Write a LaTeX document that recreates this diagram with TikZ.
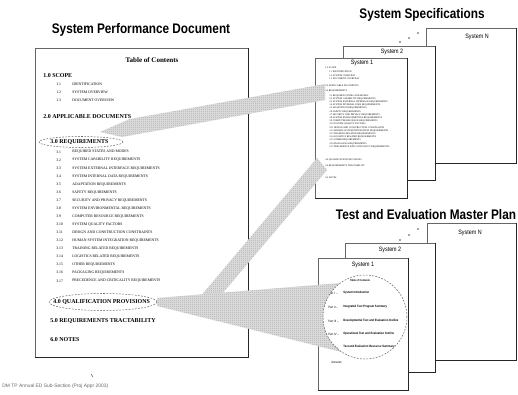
\documentclass[tikz,border=0pt]{standalone}
\usepackage{fontspec}
\setmainfont{Liberation Serif}
\newfontfamily\nsans{Liberation Sans}[FakeStretch=0.85]
\newfontfamily\psans{Liberation Sans}
\usetikzlibrary{patterns}

% fine checkerboard used for the mapping beams
\pgfdeclarepatternformonly{finecheck}{\pgfpointorigin}{\pgfpoint{0.9pt}{0.9pt}}{\pgfpoint{0.9pt}{0.9pt}}{%
  \pgfpathrectangle{\pgfpointorigin}{\pgfpoint{0.45pt}{0.45pt}}%
  \pgfpathrectangle{\pgfpoint{0.45pt}{0.45pt}}{\pgfpoint{0.45pt}{0.45pt}}%
  \pgfusepath{fill}}

\def\reqlist{REQUIRED STATES AND MODES, SYSTEM CAPABILITY REQUIREMENTS,
  SYSTEM EXTERNAL INTERFACE REQUIREMENTS, SYSTEM INTERNAL DATA REQUIREMENTS,
  ADAPTATION REQUIREMENTS, SAFETY REQUIREMENTS, SECURITY AND PRIVACY REQUIREMENTS,
  SYSTEM ENVIRONMENTAL REQUIREMENTS, COMPUTER RESOURCE REQUIREMENTS,
  SYSTEM QUALITY FACTORS, DESIGN AND CONSTRUCTION CONSTRAINTS,
  HUMAN SYSTEM INTEGRATION REQUIREMENTS, TRAINING RELATED REQUIREMENTS,
  LOGISTICS RELATED REQUIREMENTS, OTHER REQUIREMENTS, PACKAGING REQUIREMENTS,
  PRECEDENCE AND CRITICALITY REQUIREMENTS}

\begin{document}
\begin{tikzpicture}[x=0.02cm,y=-0.02cm,
  title/.style={font=\nsans\bfseries\fontsize{7.9}{9}\selectfont, inner sep=0pt},
  pagebox/.style={draw=black!60, line width=0.3pt, fill=white, inner sep=0pt},
  heavyedge/.style={draw=black!85, line width=0.7pt},
  toc/.style={font=\bfseries\fontsize{4}{5}\selectfont, inner sep=0pt},
  head/.style={anchor=west, inner sep=0pt, font=\bfseries\fontsize{3.4}{4}\selectfont},
  item/.style={anchor=west, inner sep=0pt, font=\fontsize{2.15}{2.5}\selectfont},
  mini/.style={anchor=west, inner sep=0pt, font=\fontsize{1.35}{1.6}\selectfont, text=black},
  syslabel/.style={font=\nsans\fontsize{3.6}{4}\selectfont, inner sep=0pt},
  partlab/.style={anchor=west, inner sep=0pt, font=\nsans\fontsize{1.8}{2}\selectfont},
  parttxt/.style={anchor=west, inner sep=0pt, font=\nsans\bfseries\fontsize{1.8}{2}\selectfont},
  ring/.style={draw=black!60, line width=0.3pt, dash pattern=on 1pt off 0.8pt},
  beam/.style={preaction={fill=black!12}, pattern=finecheck, pattern color=black!32},
  dot/.style={fill=black!70}]

\useasboundingbox (0,0) rectangle (518,395);

% ---------------- System Performance Document ----------------
\node[title] (spdtitle) at (141,30) {System Performance Document};
\node[pagebox, minimum width=4.26cm, minimum height=6.18cm] (spd) at (141.5,202.5) {};
\draw[heavyedge] (spd.north east) -- (spd.south east) -- (spd.south west);

\node[toc] (toct) at (152,60) {Table of Contents};
\node[head] (h1) at (43,76) {1.0 SCOPE};
\node[item] (n11) at (56,84.5) {1.1}; \node[item] (t11) at (72,84.5) {IDENTIFICATION};
\node[item] (n12) at (56,92.5) {1.2}; \node[item] (t12) at (72,92.5) {SYSTEM OVERVIEW};
\node[item] (n13) at (56,100.5) {1.3}; \node[item] (t13) at (72,100.5) {DOCUMENT OVERVIEW};
\node[head] (h2) at (43,117) {2.0 APPLICABLE DOCUMENTS};
\node[head] (h3) at (50,142) {3.0 REQUIREMENTS};
\foreach \t [count=\i] in \reqlist {
  \node[item] (rn\i) at (56,{152+8.05*(\i-1)}) {3.\i};
  \node[item] (rt\i) at (72,{152+8.05*(\i-1)}) {\t};
}
\node[head] (h4) at (53,302) {4.0 QUALIFICATION PROVISIONS};
\node[head] (h5) at (50,321) {5.0 REQUIREMENTS TRACTABILITY};
\node[head] (h6) at (50,340) {6.0 NOTES};

\draw[black!70, line width=0.3pt] (91,374) -- (93,377);
\node[anchor=west, inner sep=0pt, font=\psans\fontsize{2.8}{3}\selectfont, text=black!60] (foot) at (2,386)
  {DM TP Annual ED Sub-Section (Proj Appr 2003)};

% ---------------- System Specifications ----------------
\node[title] (sstitle) at (422,15) {System Specifications};
\node[pagebox, minimum width=1.8cm, minimum height=2.7cm] (ssN) at (471,95.5) {};
\draw[heavyedge] (ssN.north east) -- (ssN.south east) -- (ssN.south west);
\node[syslabel] (ssNl) at (477,37) {System N};
\node[pagebox, minimum width=1.84cm, minimum height=2.68cm] (ss2) at (389,113) {};
\draw[heavyedge] (ss2.north east) -- (ss2.south east) -- (ss2.south west);
\node[syslabel] (ss2l) at (392,52) {System 2};
\node[pagebox, minimum width=1.84cm, minimum height=2.8cm] (ss1) at (361,128) {};
\draw[heavyedge] (ss1.north east) -- (ss1.south east) -- (ss1.south west);
\node[syslabel] (ss1l) at (362,63) {System 1};
\fill[dot] (400,42) circle[radius=0.5pt] (409,38) circle[radius=0.5pt] (418,33) circle[radius=0.5pt];

% miniature contents of the System 1 specification
\node[mini] (m1) at (325,68) {1.0 SCOPE};
\node[mini] (m11) at (329,72) {1.1 IDENTIFICATION};
\node[mini] (m12) at (329,75.5) {1.2 SYSTEM OVERVIEW};
\node[mini] (m13) at (329,79) {1.3 DOCUMENT OVERVIEW};
\node[mini] (m2) at (325,86) {2.0 APPLICABLE DOCUMENTS};
\node[mini] (m3) at (325,91) {3.0 REQUIREMENTS};
\foreach \t [count=\i] in \reqlist {
  \node[mini] (mr\i) at (329,{95.5+3.2*(\i-1)}) {3.\i\ \t};
}
\node[mini] (m4) at (325,160) {4.0 QUALIFICATION PROVISIONS};
\node[mini] (m5) at (325,166) {5.0 REQUIREMENTS TRACTABILITY};
\node[mini] (m6) at (325,178) {6.0 NOTES};

% ---------------- Test and Evaluation Master Plan ----------------
\node[title] (temptitle) at (426,215) {Test and Evaluation Master Plan};
\node[pagebox, minimum width=1.78cm, minimum height=2.74cm] (tN) at (471.5,291.5) {};
\draw[heavyedge] (tN.north east) -- (tN.south east) -- (tN.south west);
\node[syslabel] (tNl) at (470,233) {System N};
\node[pagebox, minimum width=1.8cm, minimum height=2.58cm] (t2) at (390,307.5) {};
\draw[heavyedge] (t2.north east) -- (t2.south east) -- (t2.south west);
\node[syslabel] (t2l) at (390,250) {System 2};
\node[pagebox, minimum width=1.8cm, minimum height=2.64cm] (t1) at (363,324) {};
\draw[heavyedge] (t1.north east) -- (t1.south east) -- (t1.south west);
\node[syslabel] (t1l) at (363,265) {System 1};
\fill[dot] (400,240) circle[radius=0.5pt] (409,235) circle[radius=0.5pt] (418,229) circle[radius=0.5pt];

\coordinate (tc) at (365,317);
\node[inner sep=0pt, font=\nsans\bfseries\fontsize{1.6}{2}\selectfont] (ttoc) at (360,280) {Table of Contents};
\node[partlab] (p1) at (328,293) {Part I \,--}; \node[parttxt] (q1) at (343,293) {System Introduction};
\node[partlab] (p2) at (328,307) {Part II --}; \node[parttxt] (q2) at (343,307) {Integrated Test Program Summary};
\node[partlab] (p3) at (328,321) {Part III --}; \node[parttxt] (q3) at (343,321) {Developmental Test and Evaluation Outline};
\node[partlab] (p4) at (328,334) {Part IV --}; \node[parttxt] (q4) at (343,334) {Operational Test and Evaluation Outline};
\node[partlab] (p5) at (328,347) {Part V --}; \node[parttxt] (q5) at (343,347) {Test and Evaluation Resource Summary};
\node[partlab] (p6) at (331,362) {Annexes};

% ---------------- mapping beams ----------------
\coordinate (b1a) at (100,132); \coordinate (b1b) at (130,119);
\coordinate (b1c) at (325,84);  \coordinate (b1d) at (325,100); \coordinate (b1e) at (122,137);
\path[beam] (b1a) -- (b1b) -- (b1c) -- (b1d) -- (b1e) -- cycle;

\coordinate (b2a) at (200,297); \coordinate (b2b) at (222,294);
\coordinate (b2c) at (327,170); \coordinate (b2d) at (317,158);
\path[beam] (b2a) -- (b2b) -- (b2c) -- (b2d) -- cycle;

\coordinate (b3a) at (157,298); \coordinate (b3b) at (157,306);
\path[beam] (b3a) -- plot[domain=126:236.5, samples=40, variable=\a]
  ({365+42*cos(\a)},{317-42*sin(\a)}) -- (b3b) -- cycle;

% circled sections
\draw[ring] (81,142) ellipse[x radius=0.84cm, y radius=0.11cm];
\draw[ring] (103,302) ellipse[x radius=1.08cm, y radius=0.17cm];
\draw[ring] (tc) circle[radius=0.84cm];

\end{tikzpicture}
\end{document}
